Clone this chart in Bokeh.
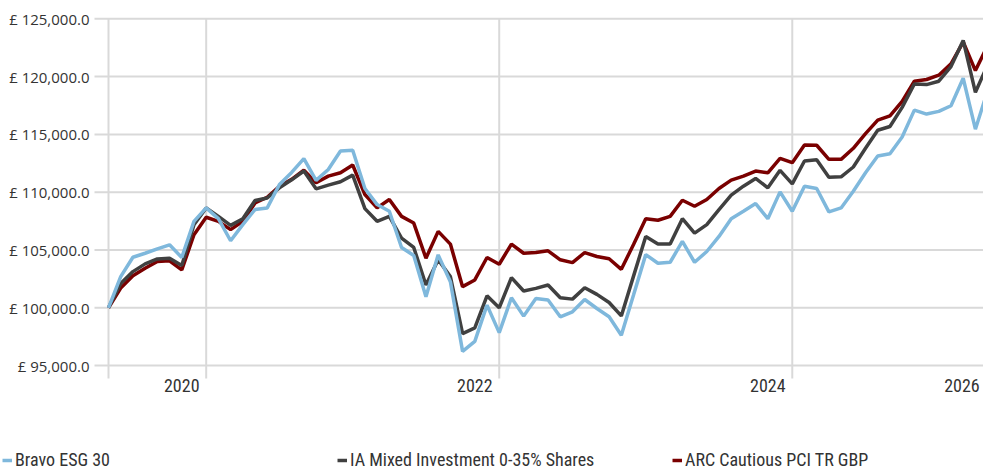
from bokeh.plotting import figure
from bokeh.models import Range1d, Legend, LegendItem, ColumnDataSource
from bokeh.core.properties import value
from bokeh.embed import file_html
from bokeh.resources import INLINE

# ---------------- data ----------------
series_names = ["Bravo ESG 30", "IA Mixed Investment 0-35% Shares", "ARC Cautious PCI TR GBP"]

bravo = [100000, 102700, 104370, 104720, 105100, 105450, 104350, 107480, 108640, 107710,
         105800, 107190, 108500, 108640, 110670, 111710, 112900, 111020, 111970, 113570,
         113630, 110320, 108930, 108350, 105220, 104520, 100960, 104580, 102260, 96230,
         97100, 100230, 97850, 100870, 99280, 100810, 100670, 99220, 99650, 100720,
         99940, 99220, 97620, 101100, 104600, 103850, 103940, 105740, 103940, 104870,
         106170, 107710, 108350, 109020, 107710, 110030, 108350, 110520, 110320, 108300,
         108640, 110090, 111680, 113130, 113330, 114780, 117100, 116760, 116990, 117480,
         119860, 115450, 118770]

ia_mixed = [100000, 102100, 103130, 103800, 104230, 104290, 103650, 107190, 108640, 107910,
            107130, 107710, 109280, 109500, 110380, 111070, 111830, 110290, 110610, 110900,
            111480, 108580, 107480, 107910, 106030, 105220, 101970, 104150, 102700, 97770,
            98260, 101040, 100000, 102610, 101450, 101680, 101970, 100870, 100750, 101740,
            101160, 100460, 99300, 102740, 106170, 105510, 105510, 107710, 106460, 107190,
            108500, 109740, 110520, 111190, 110380, 111890, 110720, 112700, 112810, 111300,
            111330, 112180, 113800, 115360, 115680, 117340, 119370, 119310, 119600, 120870,
            123130, 118640, 121010]

arc_cautious = [100000, 101700, 102780, 103420, 104000, 104060, 103280, 106320, 107830, 107480,
                106760, 107480, 109070, 109560, 110520, 111110, 111910, 110810, 111390, 111680,
                112350, 109800, 108640, 109370, 107910, 107330, 104290, 106610, 105510, 101830,
                102410, 104350, 103770, 105510, 104720, 104780, 104930, 104150, 103910, 104780,
                104440, 104240, 103330, 105480, 107700, 107570, 107910, 109300, 108780, 109370,
                110320, 111040, 111390, 111830, 111680, 112930, 112550, 114090, 114060, 112840,
                112840, 113800, 115070, 116230, 116610, 117860, 119600, 119750, 120120, 121100,
                122990, 120520, 122680]

months = list(range(len(bravo)))

year_labels = ["2020", "2022", "2024", "2026"]
year_grid_months = [0, 8, 32, 56, 80]
year_label_months = [6, 30, 54, 69.9]

y_ticks = [95000, 100000, 105000, 110000, 115000, 120000, 125000]
y_tick_labels = ["£ 95,000.0", "£ 100,000.0", "£ 105,000.0", "£ 110,000.0",
                 "£ 115,000.0", "£ 120,000.0", "£ 125,000.0"]

# ---------------- layout / styling ----------------
W, H = 983, 470
PX0, PX_PER_MONTH = 108.0, 12.21          # screen x of month 0, px per month
PY_TOP, PX_PER_5000 = 18.3, 57.8          # screen y of top tick, px per 5000
PLOT_BOTTOM_PX = 378                      # bottom of the plotting area
TICK_OUT = 14

def xv(px):
    return (px - PX0) / PX_PER_MONTH

def yv(py):
    return y_ticks[-1] - (py - PY_TOP) * 5000 / PX_PER_5000

BLUE = "#7fb8dc"
DARK = "#404040"
RED = "#7a0000"
GRID = "#d9d9d9"
TEXT = "#333333"
COND = "Liberation Sans Narrow, Roboto Condensed, Arial Narrow, sans-serif"
LW = 3.5

p = figure(width=W, height=H, output_backend="svg", toolbar_location=None,
           x_range=Range1d(xv(0), xv(W)), y_range=Range1d(yv(H), yv(0)),
           min_border=0)
p.axis.visible = False
p.grid.visible = False
p.outline_line_color = None
p.background_fill_color = "white"
p.border_fill_color = "white"

y_bottom = yv(PLOT_BOTTOM_PX)
x_left = 0
x_right = xv(W + 5)

# grid lines (vertical at year boundaries, horizontal at value ticks)
p.segment(x0=year_grid_months, x1=year_grid_months,
          y0=[y_bottom] * len(year_grid_months), y1=[y_ticks[-1]] * len(year_grid_months),
          line_color=GRID, line_width=2)
p.segment(x0=[x_left - TICK_OUT / PX_PER_MONTH] * len(y_ticks), x1=[x_right] * len(y_ticks),
          y0=y_ticks, y1=y_ticks, line_color=GRID, line_width=2)

# series
r_red = p.line(months, arc_cautious, line_color=RED, line_width=LW)
r_dark = p.line(months, ia_mixed, line_color=DARK, line_width=LW)
r_blue = p.line(months, bravo, line_color=BLUE, line_width=LW)

# y tick labels
ysrc = ColumnDataSource(dict(x=[x_left] * len(y_ticks), y=y_ticks, t=y_tick_labels))
p.text(x="x", y="y", text="t", source=ysrc, x_offset=-(TICK_OUT + 5),
       text_align="right", text_baseline="middle",
       text_font=value("Open Sans"), text_font_size="15px", text_color=TEXT)

# x tick labels
xsrc = ColumnDataSource(dict(x=year_label_months, y=[y_bottom] * len(year_labels), t=year_labels))
p.text(x="x", y="y", text="t", source=xsrc, y_offset=0,
       text_align="center", text_baseline="top",
       text_font=value(COND), text_font_size="18px", text_color=TEXT)

# legend
legend = Legend(items=[LegendItem(label=series_names[0], renderers=[r_blue]),
                       LegendItem(label=series_names[1], renderers=[r_dark]),
                       LegendItem(label=series_names[2], renderers=[r_red])],
                orientation="horizontal", location=(2, 0),
                glyph_width=10, glyph_height=20, label_standoff=3, label_width=322,
                spacing=0, padding=0, margin=0,
                background_fill_alpha=0, border_line_color=None,
                label_text_font=COND, label_text_font_size="18px", label_text_color=TEXT)
p.add_layout(legend, "center")

open("out.html", "w").write(file_html(p, INLINE))
